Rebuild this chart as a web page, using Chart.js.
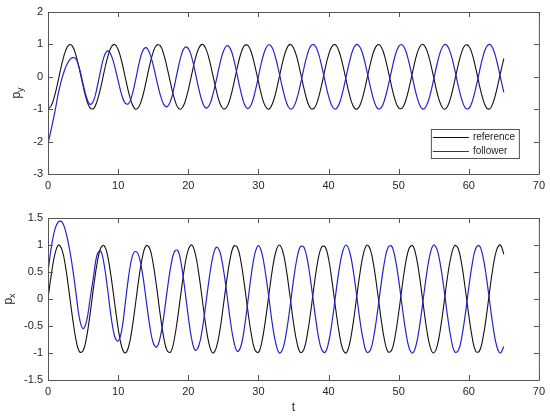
<!DOCTYPE html>
<html>
<head>
<meta charset="utf-8">
<script src="https://cdn.jsdelivr.net/npm/chart.js@4.4.1/dist/chart.umd.min.js"></script>
<style>
  body { margin: 0; background: #fff; }
  #wrap { position: relative; width: 550px; height: 418px; }
  #wrap canvas { position: absolute; left: 0; }
  #top { top: 0; }
  #bottom { top: 200px; }
</style>
</head>
<body>
<div id="wrap">
  <canvas id="top" width="550" height="200"></canvas>
  <canvas id="bottom" width="550" height="218"></canvas>
</div>
<script>
// sample times (t), read every 0.5
const t = [
  0, 0.5, 1, 1.5, 2, 2.5, 3, 3.5, 4, 4.5,
  5, 5.5, 6, 6.5, 7, 7.5, 8, 8.5, 9, 9.5,
  10, 10.5, 11, 11.5, 12, 12.5, 13, 13.5, 14, 14.5,
  15, 15.5, 16, 16.5, 17, 17.5, 18, 18.5, 19, 19.5,
  20, 20.5, 21, 21.5, 22, 22.5, 23, 23.5, 24, 24.5,
  25, 25.5, 26, 26.5, 27, 27.5, 28, 28.5, 29, 29.5,
  30, 30.5, 31, 31.5, 32, 32.5, 33, 33.5, 34, 34.5,
  35, 35.5, 36, 36.5, 37, 37.5, 38, 38.5, 39, 39.5,
  40, 40.5, 41, 41.5, 42, 42.5, 43, 43.5, 44, 44.5,
  45, 45.5, 46, 46.5, 47, 47.5, 48, 48.5, 49, 49.5,
  50, 50.5, 51, 51.5, 52, 52.5, 53, 53.5, 54, 54.5,
  55, 55.5, 56, 56.5, 57, 57.5, 58, 58.5, 59, 59.5,
  60, 60.5, 61, 61.5, 62, 62.5, 63, 63.5, 64, 64.5,
  65
];

// top panel: p_y
const refY = [
  -1, -0.88, -0.54, -0.07, 0.42, 0.80, 0.99, 0.94, 0.65, 0.21,
  -0.28, -0.71, -0.96, -0.98, -0.75, -0.35, 0.15, 0.60, 0.91, 1.00,
  0.84, 0.48, 0.00, -0.48, -0.84, -1.00, -0.91, -0.60, -0.14, 0.36,
  0.76, 0.98, 0.96, 0.70, 0.27, -0.22, -0.66, -0.94, -0.99, -0.80,
  -0.41, 0.08, 0.55, 0.88, 1.00, 0.87, 0.53, 0.06, -0.42, -0.81,
  -0.99, -0.93, -0.65, -0.20, 0.29, 0.72, 0.96, 0.97, 0.75, 0.34,
  -0.15, -0.61, -0.91, -1.00, -0.83, -0.47, 0.01, 0.49, 0.85, 1.00,
  0.90, 0.59, 0.13, -0.36, -0.77, -0.98, -0.96, -0.70, -0.27, 0.23,
  0.67, 0.94, 0.99, 0.79, 0.40, -0.09, -0.56, -0.89, -1.00, -0.87,
  -0.53, -0.05, 0.43, 0.81, 0.99, 0.93, 0.64, 0.19, -0.30, -0.72,
  -0.96, -0.97, -0.74, -0.33, 0.16, 0.62, 0.92, 1.00, 0.83, 0.46,
  -0.02, -0.50, -0.85, -1.00, -0.90, -0.58, -0.12, 0.37, 0.77, 0.98,
  0.95, 0.69, 0.26, -0.24, -0.67, -0.95, -0.99, -0.78, -0.39, 0.10,
  0.56
];
const folY = [
  -2.06, -1.58, -1.06, -0.48, -0.04, 0.29, 0.50, 0.59, 0.55, 0.24,
  -0.22, -0.64, -0.85, -0.74, -0.33, 0.19, 0.63, 0.80, 0.67, 0.33,
  -0.12, -0.55, -0.81, -0.83, -0.56, -0.09, 0.43, 0.80, 0.90, 0.73,
  0.36, -0.11, -0.55, -0.85, -0.92, -0.73, -0.31, 0.21, 0.66, 0.91,
  0.88, 0.60, 0.14, -0.37, -0.77, -0.96, -0.88, -0.56, -0.10, 0.39,
  0.78, 0.96, 0.87, 0.53, 0.04, -0.46, -0.84, -0.98, -0.85, -0.49,
  0.00, 0.49, 0.85, 0.99, 0.89, 0.55, 0.09, -0.40, -0.79, -0.99,
  -0.94, -0.67, -0.23, 0.27, 0.70, 0.96, 0.98, 0.76, 0.36, -0.13,
  -0.59, -0.90, -1.00, -0.85, -0.49, -0.01, 0.47, 0.84, 1.00, 0.91,
  0.61, 0.15, -0.34, -0.75, -0.98, -0.96, -0.71, -0.29, 0.20, 0.65,
  0.93, 0.99, 0.81, 0.42, -0.06, -0.53, -0.87, -1.00, -0.88, -0.55,
  -0.08, 0.41, 0.80, 0.99, 0.94, 0.66, 0.22, -0.28, -0.70, -0.96,
  -0.98, -0.76, -0.35, 0.14, 0.60, 0.91, 1.00, 0.84, 0.48, 0.00,
  -0.48
];

// bottom panel: p_x
const refX = [
  0, 0.48, 0.84, 1.00, 0.91, 0.60, 0.14, -0.35, -0.76, -0.98,
  -0.96, -0.71, -0.28, 0.22, 0.66, 0.94, 0.99, 0.80, 0.41, -0.07,
  -0.54, -0.88, -1.00, -0.88, -0.54, -0.07, 0.42, 0.80, 0.99, 0.94,
  0.65, 0.21, -0.29, -0.71, -0.96, -0.98, -0.75, -0.34, 0.15, 0.61,
  0.91, 1.00, 0.84, 0.47, -0.01, -0.49, -0.85, -1.00, -0.90, -0.59,
  -0.13, 0.36, 0.76, 0.98, 0.96, 0.70, 0.27, -0.22, -0.66, -0.94,
  -0.99, -0.79, -0.40, 0.08, 0.55, 0.88, 1.00, 0.87, 0.53, 0.06,
  -0.43, -0.81, -0.99, -0.93, -0.64, -0.20, 0.30, 0.72, 0.96, 0.97,
  0.75, 0.33, -0.16, -0.61, -0.92, -1.00, -0.83, -0.46, 0.02, 0.49,
  0.85, 1.00, 0.90, 0.58, 0.12, -0.37, -0.77, -0.98, -0.95, -0.69,
  -0.26, 0.23, 0.67, 0.94, 0.99, 0.79, 0.40, -0.09, -0.56, -0.89,
  -1.00, -0.87, -0.52, -0.05, 0.44, 0.81, 0.99, 0.93, 0.64, 0.19,
  -0.30, -0.72, -0.97, -0.97, -0.74, -0.33, 0.17, 0.62, 0.92, 1.00,
  0.83
];
const folX = [
  0.50, 0.98, 1.30, 1.43, 1.43, 1.26, 0.97, 0.58, 0.10, -0.37,
  -0.55, -0.41, 0.00, 0.42, 0.82, 0.89, 0.64, 0.18, -0.33, -0.69,
  -0.78, -0.59, -0.10, 0.42, 0.78, 0.88, 0.78, 0.45, -0.02, -0.49,
  -0.81, -0.89, -0.71, -0.33, 0.16, 0.60, 0.87, 0.90, 0.65, 0.19,
  -0.32, -0.75, -0.95, -0.87, -0.56, -0.10, 0.39, 0.78, 0.96, 0.88,
  0.56, 0.10, -0.40, -0.79, -0.97, -0.88, -0.54, -0.05, 0.46, 0.84,
  0.99, 0.85, 0.49, 0.02, -0.47, -0.83, -1.00, -0.92, -0.61, -0.16,
  0.34, 0.75, 0.97, 0.96, 0.72, 0.29, -0.20, -0.65, -0.93, -0.99,
  -0.81, -0.43, 0.06, 0.53, 0.87, 1.00, 0.88, 0.55, 0.08, -0.41,
  -0.79, -0.99, -0.94, -0.66, -0.22, 0.27, 0.70, 0.96, 0.98, 0.76,
  0.36, -0.13, -0.59, -0.91, -1.00, -0.85, -0.49, -0.01, 0.47, 0.84,
  1.00, 0.91, 0.60, 0.15, -0.34, -0.75, -0.98, -0.96, -0.71, -0.29,
  0.21, 0.65, 0.94, 0.99, 0.80, 0.42, -0.07, -0.54, -0.88, -1.00,
  -0.88
];

const seriesNames = ['reference', 'follower'];

const FONT = "'Liberation Sans', Arial, sans-serif";
const TEXT = '#262626';
const AXIS = '#555';
const REF_COLOR = '#111';
const FOL_COLOR = '#2424cc';

Chart.defaults.font.family = FONT;
Chart.defaults.font.size = 11;
Chart.defaults.color = TEXT;

function pts(ys) {
  return t.map((v, i) => ({ x: v, y: ys[i] }));
}

// matlab-like tick text: 1 not 1.0
function tickText(v) {
  return String(Math.round(v * 10) / 10);
}

// matlab style box with inward ticks on all four sides
const boxTicks = {
  id: 'boxTicks',
  afterDraw(chart) {
    const { ctx, chartArea: a, scales: { x, y } } = chart;
    const len = 5;
    ctx.save();
    ctx.strokeStyle = AXIS;
    ctx.lineWidth = 1;
    ctx.beginPath();
    ctx.rect(a.left + 0.5, a.top + 0.5, a.right - a.left, a.bottom - a.top);
    x.ticks.forEach(tk => {
      const px = Math.round(x.getPixelForValue(tk.value)) + 0.5;
      ctx.moveTo(px, a.bottom); ctx.lineTo(px, a.bottom - len);
      ctx.moveTo(px, a.top); ctx.lineTo(px, a.top + len);
    });
    y.ticks.forEach(tk => {
      const py = Math.round(y.getPixelForValue(tk.value)) + 0.5;
      ctx.moveTo(a.left, py); ctx.lineTo(a.left + len, py);
      ctx.moveTo(a.right, py); ctx.lineTo(a.right - len, py);
    });
    ctx.stroke();
    ctx.restore();
  }
};

// rotated "p" with a subscript
const yLabel = {
  id: 'yLabel',
  afterDraw(chart, args, opts) {
    const { ctx, chartArea: a } = chart;
    ctx.save();
    ctx.translate(opts.x, (a.top + a.bottom) / 2);
    ctx.rotate(-Math.PI / 2);
    ctx.fillStyle = TEXT;
    ctx.textBaseline = 'alphabetic';
    ctx.font = '12px ' + FONT;
    const wp = ctx.measureText('p').width;
    ctx.font = '9px ' + FONT;
    const ws = ctx.measureText(opts.sub).width;
    const x0 = -(wp + ws) / 2;
    ctx.font = '12px ' + FONT;
    ctx.fillText('p', x0, 0);
    ctx.font = '9px ' + FONT;
    ctx.fillText(opts.sub, x0 + wp, 3);
    ctx.restore();
  }
};

// boxed legend in the lower right of the top panel
const boxLegend = {
  id: 'boxLegend',
  afterDraw(chart, args, opts) {
    if (!opts.show) return;
    const { ctx, chartArea: a } = chart;
    const w = 88, h = 29;
    const x0 = a.right - 20 - w, y0 = 129;
    ctx.save();
    ctx.fillStyle = '#fff';
    ctx.fillRect(x0, y0, w, h);
    ctx.lineWidth = 1;
    ctx.strokeStyle = AXIS;
    ctx.strokeRect(x0 + 0.5, y0 + 0.5, w, h);
    ctx.font = '10px ' + FONT;
    ctx.textBaseline = 'middle';
    const cols = [REF_COLOR, FOL_COLOR];
    seriesNames.forEach((name, i) => {
      const yy = y0 + 8 + i * 14;
      ctx.beginPath();
      ctx.strokeStyle = cols[i];
      ctx.lineWidth = 1.2;
      ctx.moveTo(x0 + 2, yy + 0.5);
      ctx.lineTo(x0 + 38, yy + 0.5);
      ctx.stroke();
      ctx.fillStyle = TEXT;
      ctx.fillText(name, x0 + 42, yy);
    });
    ctx.restore();
  }
};

function build(id, refData, folData, o) {
  return new Chart(document.getElementById(id), {
    type: 'line',
    data: {
      datasets: [
        { label: seriesNames[1], data: pts(folData), borderColor: FOL_COLOR, borderWidth: 1.2, pointRadius: 0, tension: 0.4, fill: false, order: 0 },
        { label: seriesNames[0], data: pts(refData), borderColor: REF_COLOR, borderWidth: 1.1, pointRadius: 0, tension: 0.4, fill: false, order: 1 }
      ]
    },
    options: {
      responsive: false,
      animation: false,
      layout: { padding: { top: o.padTop, right: 11, left: 0, bottom: 0 } },
      plugins: {
        legend: { display: false },
        tooltip: { enabled: false },
        yLabel: { x: o.labelX, sub: o.sub },
        boxLegend: { show: o.legend }
      },
      scales: {
        x: {
          type: 'linear', min: 0, max: 70,
          ticks: { stepSize: 10, autoSkip: false, maxRotation: 0, padding: 5, color: TEXT, callback: tickText },
          grid: { display: false, drawTicks: false },
          border: { display: false },
          title: { display: !!o.xTitle, text: o.xTitle || '', color: TEXT, font: { size: 12 }, padding: { top: 0, bottom: 3 } },
          afterFit(s) { s.height = o.xHeight; }
        },
        y: {
          min: o.ymin, max: o.ymax,
          ticks: { stepSize: o.step, autoSkip: false, padding: 5, color: TEXT, callback: tickText },
          grid: { display: false, drawTicks: false },
          border: { display: false },
          afterFit(s) { s.width = 48; }
        }
      }
    },
    plugins: [boxTicks, yLabel, boxLegend]
  });
}

build('top', refY, folY, { ymin: -3, ymax: 2, step: 1, padTop: 12, xHeight: 26, sub: 'y', labelX: 20, legend: true });
build('bottom', refX, folX, { ymin: -1.5, ymax: 1.5, step: 0.5, padTop: 18, xHeight: 38, sub: 'x', labelX: 12, legend: false, xTitle: 't' });
</script>
</body>
</html>
